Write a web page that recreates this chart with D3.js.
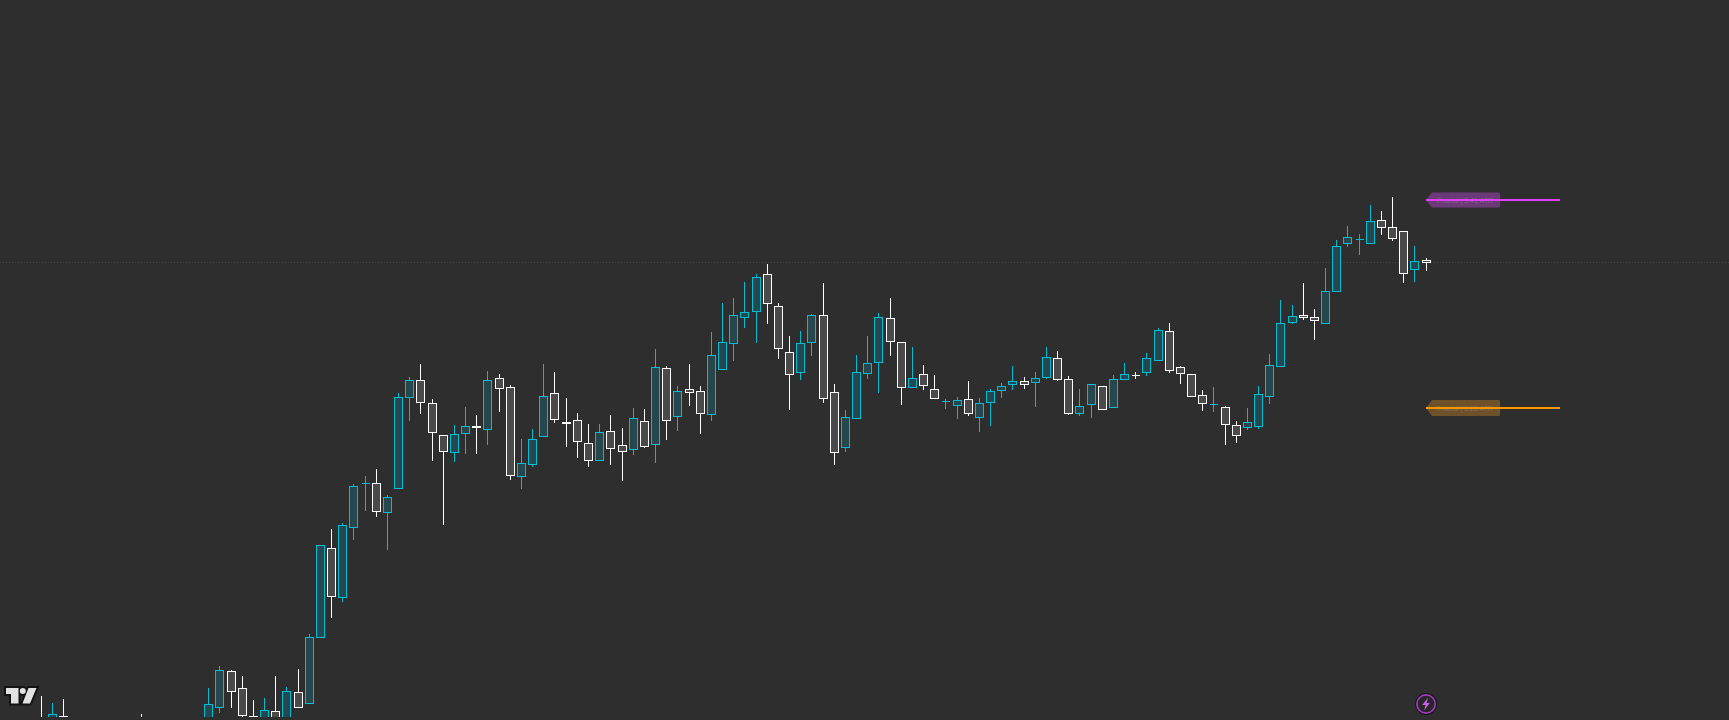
<!DOCTYPE html>
<html>
<head>
<meta charset="utf-8">
<script src="https://cdn.jsdelivr.net/npm/d3@7/dist/d3.min.js"></script>
<style>
html,body{margin:0;padding:0;background:#2e2e2e;overflow:hidden}
svg{display:block}
</style>
</head>
<body>
<div id="chart"></div>
<script>
// OHLC candles (price unit is arbitrary, the original axis is hidden)
const opens = [-5,-10,3.7,-20,-16,-22,-18,-24,-14,-4,-20,-16,-24,-18,-12,-8,12.3,48.7,31.7,4,-6,8.7,-6,27.7,16.3,82.3,171.7,122.3,192.7,236.7,236.7,207.7,231.7,322.7,339.7,316.7,284.7,267.7,286.7,293.7,290.7,341.7,332.7,243.7,255.7,283.7,326.7,297.5,299.7,276.7,259.7,288.7,274.7,270.7,298.7,275.7,351.7,303.7,330.7,328.7,305.7,350.7,376.7,402.7,408.7,445.7,413.7,367.7,347.7,377.7,404.7,327.7,272.7,301.7,346.7,357.7,401.7,377.7,332.7,345.7,330.7,318.7,314.7,320.7,302.7,317.7,329.7,335.7,338.7,337.7,342.7,361.7,340.7,306.7,315.7,333.7,312.7,340.7,344.7,347.7,359.7,388.7,352.7,345.7,324.7,315.7,312.7,294.7,292.7,293.7,323.7,353.7,397.7,404.7,402.7,396.7,428.7,476.7,480.7,476.7,499.7,492.7,488.7,450.7,459.7];
const highs = [24,16.7,20.7,-4,-8,-12,-10,-16,-6,6,-12,-8,-16,-10,-4,31.7,53.7,50,44,20,22,44,33,51,86,174.7,191,197,236,244,250.7,224.7,327,342.7,356,320.7,284.7,294.7,313,305,348.7,346,335,281,290.7,356,347.7,321.7,306.7,296,296,305,292,312,311,371,354,334,355.7,334,387.7,416.7,422,437.7,446,456,416.7,383.7,388.7,405.7,436.7,335.7,309.7,364.7,383.7,406.7,421.7,377.7,372.7,354.7,344.7,320.7,322.7,338.7,321.7,330.7,336.7,353.7,342.7,347.7,372.7,368.7,343.7,330.7,335.7,333.7,344.7,356.7,347.7,366.7,391.7,396.7,353.7,345.7,329.7,332.7,313.7,298.7,311.7,333.7,365.7,419.7,414.7,436.7,410.7,451.7,479.7,493.7,485.7,514.7,508.7,522.7,488.7,473.7,461.7];
const lows = [-25,-15,-10,-24,-26,-30,-28,-32,-22,-18,-28,-24,-32,-26,-20,-12,7.3,12,-5,-10,-10,-12,-8,12.3,16.3,82.3,102.3,118.3,180.3,209.3,203.3,170.3,231.7,299.3,306.3,259.3,195.3,258.3,266.3,266.3,275,308.3,240.3,231.3,253.3,283.7,297.3,273.3,262.3,253.3,259.7,255.3,239,265.3,272.3,257.3,280.3,289.3,314.3,286.3,299.3,350.7,359.3,392.3,377.3,396.3,361.3,310.3,340.3,364.3,317.3,255.3,268.3,301.7,341,327.3,364.3,315.3,332.7,330.3,321.7,311.3,301.3,304.3,288.3,294.3,322.3,330.3,331.3,313.3,341.3,339.3,305.3,304.3,302.3,310.7,312.7,340.7,341.3,344.3,359.7,347.3,336.3,323.7,309.3,308.3,275.3,277.3,290.3,291.3,316.3,353.7,396.3,400.3,380.3,396.7,428.7,473.3,465.3,476.7,485.3,479.3,437.3,438.3,449.3];
const closes = [-20,5.7,-2,-10,-24,-14,-26,-18,-22,-12,-14,-24,-18,-26,-18,15.7,49.7,28.3,4.3,-3,9.7,-8,28.7,12.3,82.7,174.7,123.7,194.7,233.7,236.7,208.7,222.7,322.7,339.7,317.7,287.7,268.7,285.7,293.7,292.7,339.7,331.7,244.7,256.7,280.7,323.7,300.7,296.5,278.7,259.7,287.7,271.7,268.7,301.7,273.7,352.7,299.7,328.7,327.7,306.7,364.7,377.7,404.7,407.7,442.7,416.7,371.7,345.7,376.7,404.7,321.7,267.7,302.7,347.7,356.7,402.7,378.7,332.7,341.7,334.7,321.7,318.7,319.7,306.7,316.7,328.7,333.7,338.7,335.7,341.7,362.7,340.7,306.7,313.7,335.7,310.7,340.7,345.7,344.6,361.7,389.7,349.7,346.7,323.7,316.7,315.7,295.7,284.7,297.7,325.7,354.7,396.7,403.7,402.7,399.7,428.7,473.7,482.7,480.7,498.7,492.7,481.7,446.7,458.7,457.7];
const dates = d3.range(opens.length);

// Price levels on the right with their labels
const levelNames = ["Fractal | 3.41 ATR", "Fractal | 1.28 ATR"];
const levelPrices = [520, 312];
const levelColors = ["#e040fb", "#ff9800"];
const levelFills = ["#6c3a78", "#6e5029"];
const levelHalfHeights = [7.5, 8];
const lastPrice = 458;

const W = 1729, H = 720, clipBottom = 717;
const upStroke = "#00bcd4", upFill = "#25484e", downStroke = "#ffffff", downFill = "#4a4a4a";

const x = d3.scaleLinear().domain([0, 124]).range([41.3, 1426.051]);
const y = d3.scaleLinear().domain([0, 720]).range([720, 0]);
const snap = v => Math.floor(v) + 0.5;

const svg = d3.select("#chart").append("svg").attr("width", W).attr("height", H);
svg.append("rect").attr("width", W).attr("height", H).attr("fill", "#2e2e2e");
svg.append("clipPath").attr("id", "pane").append("rect").attr("width", W).attr("height", clipBottom);

// dotted last-price line
svg.append("line")
  .attr("x1", 0).attr("x2", W)
  .attr("y1", snap(y(lastPrice))).attr("y2", snap(y(lastPrice)))
  .attr("stroke", "#484848").attr("stroke-width", 1).attr("stroke-dasharray", "1 2");

const pane = svg.append("g").attr("clip-path", "url(#pane)");
const candles = pane.selectAll("g.candle").data(dates).join("g").attr("class", "candle");
const isUp = i => closes[i] >= opens[i];

candles.append("line")
  .attr("x1", i => snap(x(i))).attr("x2", i => snap(x(i)))
  .attr("y1", i => Math.round(y(highs[i]))).attr("y2", i => Math.round(y(lows[i])))
  .attr("stroke", i => isUp(i) ? upStroke : downStroke)
  .attr("stroke-width", 1).attr("shape-rendering", "crispEdges");

candles.append("path")
  .attr("d", i => {
    const c = snap(x(i));
    const top = snap(y(Math.max(opens[i], closes[i])));
    const bot = snap(y(Math.min(opens[i], closes[i])));
    return `M${c - 4},${top}H${c + 4}V${bot}H${c - 4}Z`;
  })
  .attr("fill", i => isUp(i) ? upFill : downFill)
  .attr("stroke", i => isUp(i) ? upStroke : downStroke)
  .attr("stroke-width", 1).attr("shape-rendering", "crispEdges");

// level labels and lines
const tipX = x(124), shoulderX = tipX + 6, labelRight = tipX + 74, lineEnd = tipX + 134;
const levels = svg.selectAll("g.level").data(d3.range(levelNames.length)).join("g").attr("class", "level");
levels.append("path")
  .attr("d", i => {
    const m = y(levelPrices[i]), h = levelHalfHeights[i], r = 1.5;
    return `M${tipX},${m}L${shoulderX},${m - h}H${labelRight - r}Q${labelRight},${m - h} ${labelRight},${m - h + r}V${m + h - r}Q${labelRight},${m + h} ${labelRight - r},${m + h}H${shoulderX}Z`;
  })
  .attr("fill", i => levelFills[i]);
levels.append("text")
  .attr("x", tipX + 11).attr("y", i => y(levelPrices[i]) + 2.5)
  .attr("font-family", "Liberation Sans, Arial, sans-serif").attr("font-size", 7)
  .attr("textLength", 56).attr("lengthAdjust", "spacingAndGlyphs")
  .attr("fill", "#7f7f7f").attr("opacity", 0.65)
  .text(i => levelNames[i]);
levels.append("line")
  .attr("x1", tipX).attr("x2", lineEnd)
  .attr("y1", i => y(levelPrices[i])).attr("y2", i => y(levelPrices[i]))
  .attr("stroke", i => levelColors[i]).attr("stroke-width", 2).attr("shape-rendering", "crispEdges");

// bolt badge
const badge = svg.append("g").attr("transform", `translate(${x(124)},704)`);
badge.append("circle").attr("r", 11).attr("fill", "#161616");
badge.append("circle").attr("r", 9.2).attr("fill", "#272727").attr("stroke", "#a13bc4").attr("stroke-width", 1.7);
badge.append("path").attr("d", "M2,-6.5 L-3.8,1 L-0.5,1 L-2,6.5 L3.8,-1 L0.5,-1 Z").attr("fill", "#c65fe6");

// logo
const logo = svg.append("g");
const logoShape = "M6,688H18.5V703.5H11V694H6Z M28.5,688H36.5L30,703.5H22.5Z";
logo.append("path").attr("d", logoShape).attr("fill", "#131313").attr("stroke", "#131313").attr("stroke-width", 4).attr("stroke-linejoin", "miter");
logo.append("circle").attr("cx", 22.8).attr("cy", 691).attr("r", 5).attr("fill", "#131313");
logo.append("path").attr("d", logoShape).attr("fill", "#e2e2e2");
logo.append("circle").attr("cx", 22.8).attr("cy", 691).attr("r", 3).attr("fill", "#e2e2e2");
</script>
</body>
</html>
